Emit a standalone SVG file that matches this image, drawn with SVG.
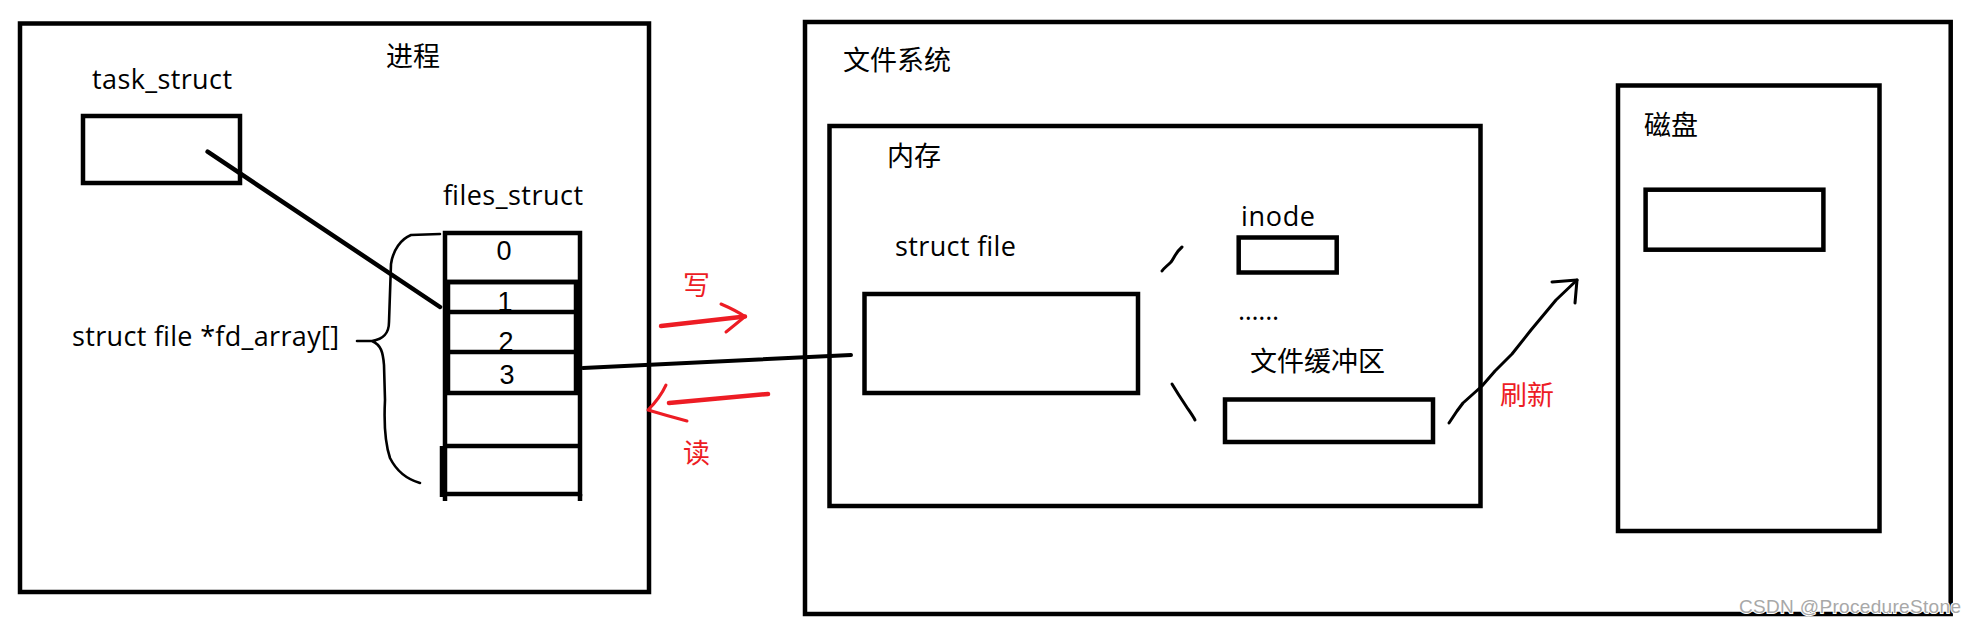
<svg xmlns="http://www.w3.org/2000/svg" width="1964" height="623" viewBox="0 0 1964 623">
<style>
.box{fill:none;stroke:#000;stroke-width:4.5}
.ln{fill:none;stroke:#000;stroke-linecap:round;stroke-linejoin:round}
.red{fill:none;stroke:#ED1C24;stroke-linecap:round;stroke-linejoin:round}
.t{font-family:"Open Sans","Noto Sans CJK SC",sans-serif;font-size:27px;fill:#000}
.d{font-family:"Liberation Sans","Noto Sans",sans-serif;font-size:27px;fill:#000}
.c{font-family:"Noto Sans CJK SC","Noto Sans",sans-serif;font-size:27px;fill:#000}
.cr{font-family:"Noto Sans CJK SC","Noto Sans",sans-serif;font-size:27px;fill:#ED1C24}
.wm{font-family:"Liberation Sans","Noto Sans",sans-serif;font-size:19px;fill:#a8a8a8;stroke:#fff;stroke-width:2;paint-order:stroke}
</style>
<rect width="1964" height="623" fill="#fff"/>

<g id="process">
<rect class="box" x="20" y="23.5" width="629" height="568.5"/>
<text class="c" x="386" y="66">进程</text>
</g>

<g id="task_struct">
<text class="t" x="92" y="89" textLength="140">task_struct</text>
<rect class="box" x="83" y="116" width="157" height="67"/>
</g>

<g id="files_struct">
<text class="t" x="443" y="205" textLength="140">files_struct</text>
<rect class="box" x="445" y="233" width="135" height="261"/>
<line class="box" x1="445" y1="494" x2="445" y2="501"/>
<line class="box" x1="580" y1="494" x2="580" y2="501"/>
<line class="box" x1="442" y1="446" x2="442" y2="497"/>
<line class="box" x1="445" y1="282" x2="580" y2="282"/>
<rect class="box" x="448" y="282" width="128" height="111"/>
<line class="box" x1="445" y1="312" x2="580" y2="312"/>
<line class="box" x1="445" y1="352" x2="580" y2="352"/>
<line class="box" x1="445" y1="446" x2="580" y2="446"/>
<text class="d" x="504" y="260" text-anchor="middle">0</text>
<text class="d" x="505" y="311" text-anchor="middle">1</text>
<text class="d" x="506" y="351" text-anchor="middle">2</text>
<text class="d" x="507" y="384" text-anchor="middle">3</text>
</g>

<g id="fd_array">
<text class="t" x="72" y="346" textLength="267">struct file *fd_array[]</text>
<path class="ln" stroke-width="2.6" d="M440,234 L411,235 C401,239 393,250 391,264 L389,322 C389,333 384,339 372,341 L357,341 M372,341 C381,345 383,352 384,365 L385,400 C384,420 384,440 390,458 C396,470 406,479 420,483"/>
</g>

<g id="filesystem">
<rect class="box" x="805" y="22" width="1145.7" height="592"/>
<text class="c" x="843" y="70">文件系统</text>
</g>

<g id="memory">
<rect class="box" x="829.5" y="126" width="651" height="380"/>
<text class="c" x="887" y="166">内存</text>
</g>

<g id="struct_file">
<text class="t" x="895" y="256" textLength="121">struct file</text>
<rect class="box" x="864.5" y="294" width="273.5" height="99"/>
</g>

<g id="inode">
<text class="t" x="1241" y="226" textLength="74">inode</text>
<rect class="box" x="1238.7" y="237.5" width="98" height="35"/>
<text class="t" x="1238" y="320" textLength="41">......</text>
</g>

<g id="buffer">
<text class="c" x="1250" y="371">文件缓冲区</text>
<rect class="box" x="1225" y="399.5" width="208" height="42.5"/>
</g>

<g id="disk">
<rect class="box" x="1618" y="85.5" width="261.5" height="445.5"/>
<text class="c" x="1644" y="135">磁盘</text>
<rect class="box" x="1645.6" y="189.7" width="177.8" height="60"/>
</g>

<g id="connectors">
<line class="ln" stroke-width="4.5" x1="207.6" y1="151.7" x2="440" y2="307"/>
<line class="ln" stroke-width="4" x1="583" y1="368" x2="851" y2="355"/>
<path class="ln" stroke-width="3" d="M1182,247 C1176,252 1174,258 1171,262 C1167,266 1164,268 1162,271"/>
<path class="ln" stroke-width="3" d="M1172,384 C1178,394 1182,400 1186,406 C1190,412 1193,416 1195,420"/>
<path class="ln" stroke-width="3" d="M1449,423 L1457,411 L1463,403 L1482,386 L1495,371 L1512,354 L1531,330 L1556,300 L1577,280"/>
<path class="ln" stroke-width="3" d="M1552,282 L1577,280 L1575,303"/>
<path class="red" stroke-width="4.5" d="M661,326 L745,316.5"/>
<path class="red" stroke-width="3" d="M721,304 Q735,310 745,316.5 Q736,324 726,332"/>
<path class="red" stroke-width="4.5" d="M768,394 L669,403"/>
<path class="red" stroke-width="3" d="M666,385 Q660,398 648,410 Q668,416 687,421"/>
</g>

<g id="labels">
<text class="cr" x="683" y="295">写</text>
<text class="cr" x="683" y="463">读</text>
<text class="cr" x="1500" y="405">刷新</text>
</g>

<text class="wm" x="1739" y="613" textLength="222">CSDN @ProcedureStone</text>
</svg>
